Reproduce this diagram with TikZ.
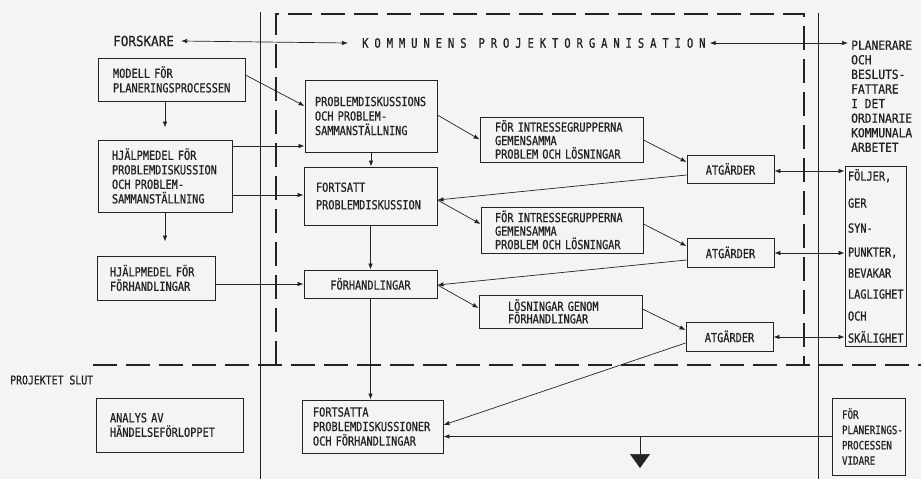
\documentclass[tikz,border=0pt]{standalone}
\usepackage{fontspec}
\usetikzlibrary{arrows.meta}
\newfontfamily\bxfont[FakeStretch=0.82,FakeBold=0.8]{DejaVu Sans Mono}
\newfontfamily\smfont[FakeStretch=0.82,FakeBold=0.8]{DejaVu Sans Mono}
\newfontfamily\vdfont[FakeStretch=0.8,FakeBold=0.8]{DejaVu Sans Mono}
\newfontfamily\hdfont[FakeStretch=0.9,FakeBold=0.8]{DejaVu Sans Mono}
\newfontfamily\plfont[FakeStretch=0.9,FakeBold=0.8]{DejaVu Sans Mono}
\newfontfamily\ttlfont[FakeStretch=0.8,FakeBold=0.8]{DejaVu Sans Mono}
\definecolor{ink}{RGB}{35,35,35}
\definecolor{paper}{RGB}{244,244,242}
\newcommand\spc[1]{\ifx#1\relax\else#1\kern6pt\expandafter\spc\fi}
% box: [opts]{name}{x1}{y1}{x2}{y2}{pad}{text}
\newcommand\bx[8][]{%
  \pgfmathsetmacro\bxw{#5-#3}%
  \pgfmathsetmacro\bxh{#6-#4}%
  \pgfmathsetmacro\bxt{#5-#3-2*#7}%
  \pgfmathsetmacro\bxcx{(#3+#5)/2}%
  \pgfmathsetmacro\bxcy{(#4+#6)/2}%
  \node[bx,minimum width=\bxw pt,minimum height=\bxh pt,text width=\bxt pt,#1] (#2) at (\bxcx,\bxcy) {#8};}
\tikzset{
  bx/.style={draw=ink, line width=0.9pt, inner sep=0pt, align=left, text=ink,
    font=\bxfont\fontsize{12.5}{14.5}\selectfont},
  lbl/.style={inner sep=0pt, text=ink},
  arr/.style={draw=ink, line width=0.7pt, -{Latex[length=6pt,width=4.5pt]}},
  darr/.style={draw=ink, line width=0.7pt, {Latex[length=6pt,width=4.5pt]}-{Latex[length=6pt,width=4.5pt]}},
  ln/.style={draw=ink, line width=0.7pt},
  dsh/.style={draw=ink, line width=1.6pt, dash pattern=on 24pt off 9pt},
  vline/.style={draw=ink, line width=0.9pt}
}
\begin{document}
\begin{tikzpicture}[x=1pt,y=-1pt]
\fill[paper] (0,0) rectangle (921,479);
\useasboundingbox (0,0) rectangle (921,479);

% frame and separators
\draw[dsh] (276,365) -- (276,14) -- (804,14) -- (804,365);
\draw[dsh] (93,365) -- (921,365);
\draw[vline] (260,12) -- (260,479);
\draw[vline] (818,13) -- (818,479);

% headings
\node[lbl, anchor=west, font=\hdfont\fontsize{14}{16}\selectfont] (forskare) at (113,41) {FORSKARE};
\node[lbl, anchor=west, font=\ttlfont\fontsize{13}{15}\selectfont] (title) at (362,43) {\spc KOMMUNENS\relax\hspace{6pt}\spc PROJEKTORGANISATION\relax};
\node[lbl, anchor=north west, align=left, font=\plfont\fontsize{12.5}{14.6}\selectfont] (plan) at (851,40.4)
  {PLANERARE\\OCH\\BESLUTS-\\FATTARE\\I DET\\ORDINARIE\\KOMMUNALA\\ARBETET};
\node[lbl, anchor=west, font=\smfont\fontsize{12}{14}\selectfont] (slut) at (10,380) {PROJEKTET SLUT};

% left boxes
\bx{modell}{98}{58}{245}{101}{15}{MODELL FÖR\\PLANERINGSPROCESSEN}
\bx{hj1}{98}{140}{232}{212}{14}{HJÄLPMEDEL FÖR\\PROBLEMDISKUSSION\\OCH PROBLEM-\\SAMMANSTÄLLNING}
\bx{hj2}{97}{256}{215}{300}{13}{HJÄLPMEDEL FÖR\\FÖRHANDLINGAR}
\bx{analys}{96}{398}{243}{452}{14}{ANALYS AV\\HÄNDELSEFÖRLOPPET}

% middle column
\bx{pd}{305}{80}{437}{152}{10}{PROBLEMDISKUSSIONS\\OCH PROBLEM-\\SAMMANSTÄLLNING}
\bx{fort}{304}{167}{437}{225}{12}{FORTSATT\\[3pt]PROBLEMDISKUSSION}
\bx[align=center]{forh}{304}{270}{437}{298}{10}{FÖRHANDLINGAR}
\bx{forts}{302}{400}{443}{453}{11}{FORTSATTA\\PROBLEMDISKUSSIONER\\OCH FÖRHANDLINGAR}

% interest group boxes
\bx[font=\bxfont\fontsize{12.5}{13.5}\selectfont]{g1}{480}{117}{643}{162}{15}{FÖR INTRESSEGRUPPERNA\\GEMENSAMMA\\PROBLEM OCH LÖSNINGAR}
\bx[font=\bxfont\fontsize{12.5}{13.5}\selectfont]{g2}{481}{207}{643}{253}{14}{FÖR INTRESSEGRUPPERNA\\GEMENSAMMA\\PROBLEM OCH LÖSNINGAR}
\bx[font=\bxfont\fontsize{12.5}{12.5}\selectfont]{g3}{479}{295}{642}{328}{29}{LÖSNINGAR GENOM\\FÖRHANDLINGAR}

% measures
\bx[align=center]{a1}{687}{155}{774}{183}{5}{ATGÄRDER}
\bx[align=center]{a2}{687}{238}{774}{267}{5}{ATGÄRDER}
\bx[align=center]{a3}{686}{322}{773}{351}{5}{ATGÄRDER}

% right boxes
\bx{fb}{845}{166}{906}{346}{3}{FÖLJER,\\[12.5pt]GER\\[10.5pt]SYN-\\[9.5pt]PUNKTER,\\[6.5pt]BEVAKAR\\[6.5pt]LAGLIGHET\\[7.5pt]OCH\\[7.5pt]SKÄLIGHET}
\bx[font=\vdfont\fontsize{11.5}{15.3}\selectfont]{vid}{832}{398}{905}{475}{0}{\mbox{\hspace*{10pt}FÖR}\\\mbox{\hspace*{10pt}PLANERINGS-}\\\mbox{\hspace*{10pt}PROCESSEN}\\\mbox{\hspace*{10pt}VIDARE}}

% top arrows
\draw[darr] ([xshift=7pt]forskare.east) -- ([xshift=-14pt]title.west);
\draw[darr] ([xshift=-2pt]title.east) -- ([xshift=-3pt,yshift=-2.6pt]plan.north west);

% left connectors
\draw[arr] (modell.south -| hj1.north) -- ([yshift=12pt]hj1.north);
\draw[arr] (hj1.south) -- ([yshift=14pt]hj1.south |- hj2.north);
\draw[arr] ([yshift=4.5pt]modell.east) -- ([yshift=10pt]pd.west);
\draw[arr] ([yshift=30pt]hj1.east) -- ([yshift=-30pt]pd.west);
\draw[arr] ([yshift=-19pt]hj1.east) -- ([yshift=1pt]fort.west);
\draw[arr] ([yshift=-6pt]hj2.east) -- (forh.west);

% middle column
\draw[arr] (pd.south) -- (pd.south |- fort.north);
\draw[arr] (fort.south) -- (fort.south |- forh.north);
\draw[arr] (forh.south) -- (forh.south |- forts.north);

% to groups and measures
\draw[arr] ([yshift=1pt]pd.east) -- (g1.west);
\draw[arr] ([yshift=-0.5pt]g1.east) -- ([yshift=7pt]a1.west);
\draw[arr] ([yshift=-6pt]a1.west) -- ([yshift=-4pt]fort.east);
\draw[arr] ([yshift=-4pt]fort.east) -- ([yshift=6pt]g2.west);
\draw[arr] ([yshift=6pt]g2.east) -- ([yshift=6.5pt]a2.west);
\draw[arr] ([yshift=-7.5pt]a2.west) -- ([yshift=-1pt]forh.east);
\draw[arr] ([yshift=-1pt]forh.east) -- ([yshift=3.5pt]g3.west);
\draw[arr] ([yshift=2.5pt]g3.east) -- ([yshift=6.5pt]a3.west);
\draw[arr] ([yshift=-6.5pt]a3.west) -- ([yshift=1.5pt]forts.east);

% measures <-> right box
\draw[darr] ([yshift=-2pt]a1.east) -- ([yshift=85pt]fb.west);
\draw[darr] ([yshift=-0.5pt]a2.east) -- ([yshift=3pt]fb.west);
\draw[darr] ([yshift=-0.5pt]a3.east) -- ([yshift=-81pt]fb.west);

% bottom
\draw[arr] (vid.west) -- ([yshift=-10pt]forts.east);
\coordinate (br) at (640,436.5);
\coordinate (tri) at (640,468);
\draw[draw=ink, fill=ink, line width=0.7pt, -{Triangle[length=14pt,width=20pt]}] (br) -- (tri);
\end{tikzpicture}
\end{document}
